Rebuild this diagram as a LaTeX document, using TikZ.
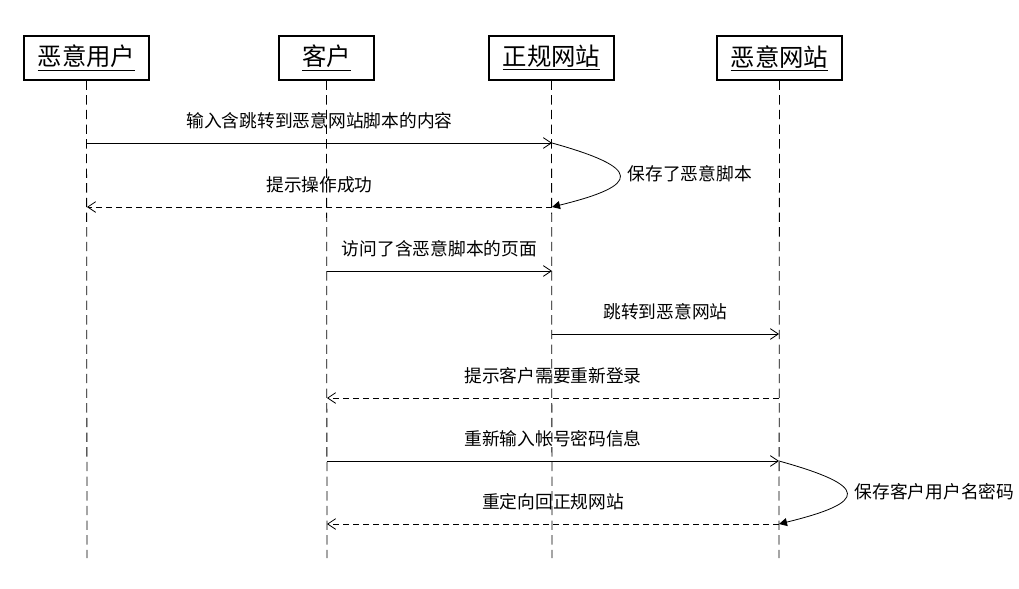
\documentclass[tikz,border=0pt]{standalone}
\usepackage{fontspec}
\setmainfont{Noto Sans CJK SC}
\usetikzlibrary{arrows.meta}
\begin{document}
\begin{tikzpicture}[x=0.75pt,y=-0.75pt,
  head/.style={draw,line width=0.8pt,minimum width=#1*0.75pt,minimum height=44*0.75pt,inner sep=0pt,font=\fontsize{18.3}{21}\selectfont},
  life/.style={line width=0.6pt,dash pattern=on 7pt off 4pt},
  msg/.style={line width=0.6pt,-{Straight Barb[length=6pt,width=8pt]}},
  ret/.style={msg,dash pattern=on 4.5pt off 3pt},
  loopa/.style={line width=0.6pt,-{Triangle[length=6pt,width=6pt]}},
  lbl/.style={font=\fontsize{13.3}{16}\selectfont,inner sep=1pt}]
\useasboundingbox (0,0) rectangle (1019,588);
% headers
\node[head=125] (h1) at (86.5,58) {\underline{恶意用户}};
\node[head=95] (h2) at (326.5,58) {\underline{客户}};
\node[head=125] (h3) at (551.5,58) {\underline{正规网站}};
\node[head=125] (h4) at (779.5,58) {\underline{恶意网站}};
% lifeline ends
\coordinate (e1) at (87,558);
\coordinate (e2) at (327,558);
\coordinate (e3) at (552,558);
\coordinate (e4) at (779,558);
\draw[life] (h1.south) -- (e1);
\draw[life] (h2.south) -- (e2);
\draw[life] (h3.south) -- (e3);
\draw[life] (h4.south) -- (e4);
% message points
\coordinate (a1) at (87,143);  \coordinate (a3) at (552,143);
\coordinate (b1) at (87,207);  \coordinate (b3) at (552,207);
\coordinate (c2) at (327,271); \coordinate (c3) at (552,271);
\coordinate (d3) at (552,334); \coordinate (d4) at (779,334);
\coordinate (f2) at (327,398); \coordinate (f4) at (779,398);
\coordinate (g2) at (327,461); \coordinate (g4) at (779,461);
\coordinate (k2) at (327,524); \coordinate (k4) at (779,524);
% messages
\draw[msg] (a1) -- node[lbl,above=9pt] (m1) {输入含跳转到恶意网站脚本的内容} (a3);
\draw[loopa] (a3) .. controls (642,168) and (642,185) .. (b3);
\node[lbl,anchor=west] (m2) at (626,174) {保存了恶意脚本};
\draw[ret] (b3) -- node[lbl,above=9pt] (m3) {提示操作成功} (b1);
\draw[msg] (c2) -- node[lbl,above=9pt] (m4) {访问了含恶意脚本的页面} (c3);
\draw[msg] (d3) -- node[lbl,above=9pt] (m5) {跳转到恶意网站} (d4);
\draw[ret] (f4) -- node[lbl,above=9pt] (m6) {提示客户需要重新登录} (f2);
\draw[msg] (g2) -- node[lbl,above=9pt] (m7) {重新输入帐号密码信息} (g4);
\draw[loopa] (g4) .. controls (869,486) and (869,502) .. (k4);
\node[lbl,anchor=west] (m8) at (853,492) {保存客户用户名密码};
\draw[ret] (k4) -- node[lbl,above=9pt] (m9) {重定向回正规网站} (k2);
\end{tikzpicture}
\end{document}
